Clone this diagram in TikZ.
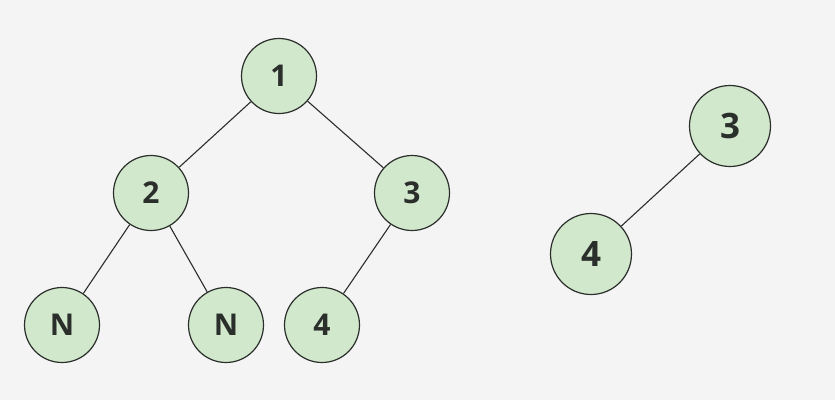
\documentclass[tikz,border=0pt]{standalone}
\usepackage{fontspec}
\setmainfont{Open Sans}
\definecolor{bgcol}{HTML}{F4F4F4}
\definecolor{nodefill}{HTML}{D2E8CC}
\definecolor{nodeline}{HTML}{2B2F2B}
\begin{document}
\begin{tikzpicture}[x=1pt, y=-1pt,
        treenode/.style={circle, draw=nodeline, fill=nodefill, line width=1.2pt, minimum size=75pt, inner sep=0pt, font=\fontsize{30}{30}\selectfont\bfseries, text=nodeline},
        bignode/.style={treenode, minimum size=81pt, font=\fontsize{35}{36}\selectfont\bfseries},
        edge/.style={draw=nodeline, line width=1.1pt}]
                \fill[bgcol] (0,0) rectangle (835,400);
                \useasboundingbox (0,0) rectangle (835,400);
                % left tree
                \node[treenode] (n1) at (279,76) {1};
                \node[treenode] (n2) at (151,193) {2};
                \node[treenode] (n3) at (412,193) {3};
                \node[treenode] (nl) at (62,325) {N};
                \node[treenode] (nr) at (226,325) {N};
                \node[treenode] (n4) at (322,325) {4};
                \draw[edge] (n1) -- (n2);
                \draw[edge] (n1) -- (n3);
                \draw[edge] (n2) -- (nl);
                \draw[edge] (n2) -- (nr);
                \draw[edge] (n3) -- (n4);
                % right tree
                \node[bignode] (m3) at (730,126) {3};
                \node[bignode] (m4) at (591,254) {4};
                \draw[edge] (m3) -- (m4);
\end{tikzpicture}
\end{document}
